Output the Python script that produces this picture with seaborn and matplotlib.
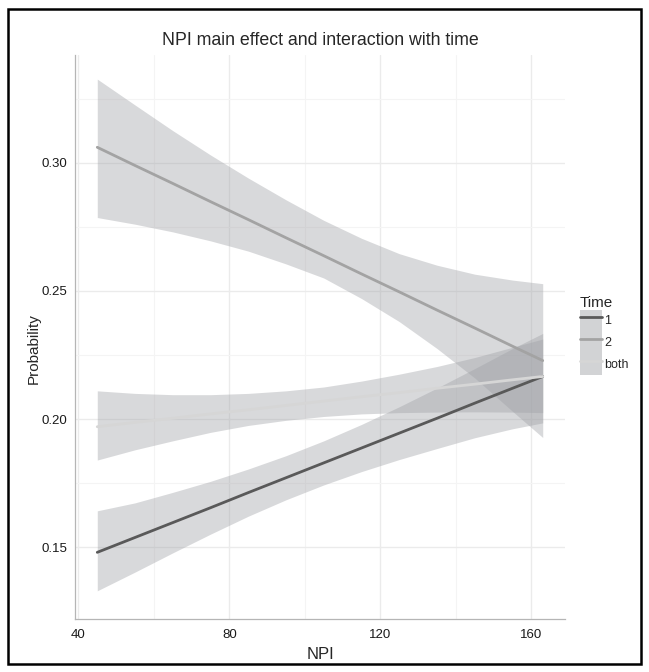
import numpy as np
import pandas as pd
import matplotlib
matplotlib.use("Agg")
import matplotlib.pyplot as plt
from matplotlib.patches import Patch, Rectangle
from matplotlib.lines import Line2D
import seaborn as sns

# ---- data ----
npi = [45, 55, 65, 75, 85, 95, 105, 115, 125, 135, 145, 155, 163]
times = ["1", "2", "both"]
prob_1 = [0.1480, 0.1538, 0.1596, 0.1654, 0.1713, 0.1771, 0.1829,
          0.1887, 0.1945, 0.2003, 0.2062, 0.2120, 0.2166]
lo_1 = [0.1330, 0.1403, 0.1478, 0.1551, 0.1621, 0.1685, 0.1743,
        0.1795, 0.1842, 0.1885, 0.1927, 0.1962, 0.1985]
hi_1 = [0.1642, 0.1673, 0.1714, 0.1757, 0.1805, 0.1857, 0.1915,
        0.1979, 0.2048, 0.2121, 0.2197, 0.2275, 0.2334]
prob_2 = [0.3060, 0.2989, 0.2919, 0.2848, 0.2778, 0.2707, 0.2637,
          0.2566, 0.2496, 0.2425, 0.2355, 0.2284, 0.2228]
lo_2 = [0.2786, 0.2760, 0.2730, 0.2695, 0.2655, 0.2605, 0.2550,
        0.2470, 0.2380, 0.2275, 0.2160, 0.2030, 0.1928]
hi_2 = [0.3326, 0.3225, 0.3125, 0.3030, 0.2940, 0.2855, 0.2775,
        0.2705, 0.2645, 0.2600, 0.2565, 0.2542, 0.2528]
prob_b = [0.1970, 0.1987, 0.2003, 0.2020, 0.2036, 0.2053, 0.2070,
          0.2087, 0.2103, 0.2120, 0.2136, 0.2153, 0.2166]
lo_b = [0.1840, 0.1880, 0.1915, 0.1948, 0.1975, 0.1995, 0.2010,
        0.2020, 0.2025, 0.2027, 0.2028, 0.2027, 0.2025]
hi_b = [0.2110, 0.2100, 0.2095, 0.2095, 0.2100, 0.2110, 0.2125,
        0.2148, 0.2175, 0.2205, 0.2240, 0.2280, 0.2312]

x_ticks = [40, 80, 120, 160]
y_ticks = [0.15, 0.20, 0.25, 0.30]

rows = []
for t, p, lo, hi in [("1", prob_1, lo_1, hi_1), ("2", prob_2, lo_2, hi_2),
                     ("both", prob_b, lo_b, hi_b)]:
    for xv, pv, l, h in zip(npi, p, lo, hi):
        rows.append({"NPI": xv, "Probability": pv, "lo": l, "hi": h, "Time": t})
df = pd.DataFrame(rows)

sns.set_theme(style="white")
plt.rcParams["font.family"] = ["Liberation Sans", "DejaVu Sans"]

line_cols = {"1": "#595959", "2": "#a3a3a3", "both": "#d6d6d6"}
fill_col = "#9fa1a6"
fill_alpha = 0.40

fig = plt.figure(figsize=(6.49, 6.72), dpi=100)
ax = fig.add_axes([75 / 649, 1 - 619 / 672, (565 - 75) / 649, (619 - 55) / 672])

for t in times:
    sub = df[df["Time"] == t]
    ax.fill_between(sub["NPI"], sub["lo"], sub["hi"], color=fill_col,
                    alpha=fill_alpha, linewidth=0, zorder=2)

sns.lineplot(data=df, x="NPI", y="Probability", hue="Time", palette=line_cols,
             hue_order=times, linewidth=2.0, legend=False, ax=ax, zorder=3)

ax.set_xlim(39.1, 168.9)
ax.set_ylim(0.122, 0.342)
ax.set_xticks(x_ticks)
ax.set_xticklabels([str(v) for v in x_ticks])
ax.set_yticks(y_ticks)
ax.set_yticklabels([f"{v:.2f}" for v in y_ticks])
ax.set_xticks([60, 100, 140], minor=True)
ax.set_yticks([0.175, 0.225, 0.275, 0.325], minor=True)
ax.grid(True, which="major", color="#ebebeb", linewidth=1.0, zorder=0)
ax.grid(True, which="minor", color="#f4f4f4", linewidth=0.8, zorder=0)
ax.set_axisbelow(True)
ax.tick_params(which="major", direction="out", length=3.5, width=0.8,
               color="#333333", labelsize=9.5, labelcolor="#1a1a1a", pad=2)
ax.tick_params(axis="x", which="major", pad=4)
ax.tick_params(which="minor", length=0)
for s in ["top", "right"]:
    ax.spines[s].set_visible(False)
for s in ["left", "bottom"]:
    ax.spines[s].set_color("#b5b5b5")
    ax.spines[s].set_linewidth(0.9)

ax.set_xlabel("NPI", fontsize=12, labelpad=4)
ax.set_ylabel("Probability", fontsize=11, labelpad=3)
ax.yaxis.set_label_coords(-0.07, 0.48)
ax.set_title("NPI main effect and interaction with time", fontsize=12.8, pad=7)

handles = [(Patch(facecolor="#d2d3d5", edgecolor="none"),
            Line2D([], [], color=line_cols[t], linewidth=2)) for t in times]
leg = fig.legend(handles, times, title="Time", loc="upper left",
                 bbox_to_anchor=(571 / 649, 1 - 287 / 672), frameon=False,
                 fontsize=9, title_fontsize=11, handlelength=1.75,
                 handleheight=2.3, labelspacing=0.0, handletextpad=0.2,
                 borderpad=0.2)
leg._legend_box.align = "left"

fig.patches.append(Rectangle((8 / 649, 1 - 664 / 672), (641 - 8) / 649,
                             (664 - 9) / 672, transform=fig.transFigure,
                             fill=False, edgecolor="black", linewidth=1.8))

fig.savefig("out.png", dpi=100)
